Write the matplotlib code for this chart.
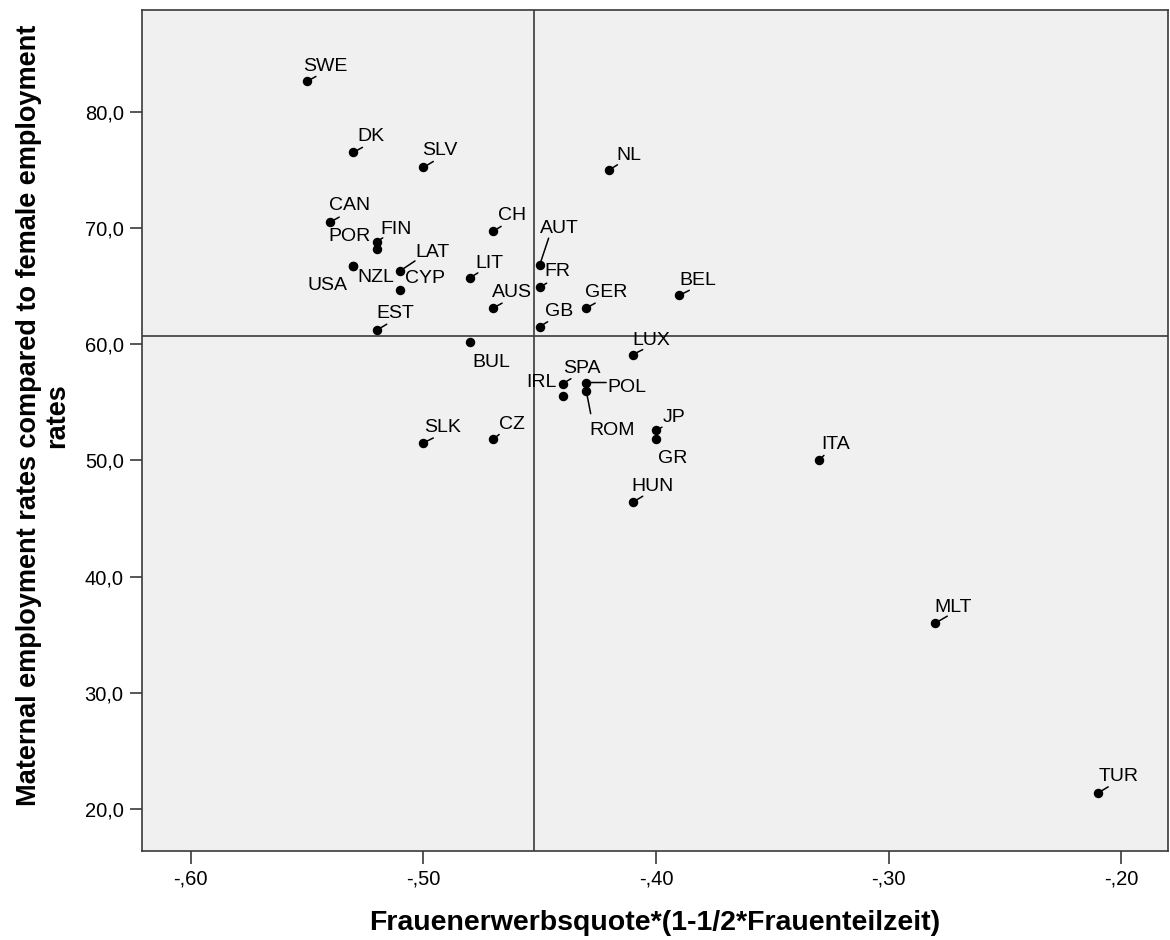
import matplotlib.pyplot as plt
from matplotlib.ticker import FuncFormatter

# country codes and values
countries = ['SWE', 'DK', 'SLV', 'NL', 'CAN', 'FIN', 'POR', 'CH', 'AUT', 'LAT',
             'LIT', 'FR', 'USA', 'NZL', 'CYP', 'AUS', 'GB', 'GER', 'BEL', 'EST',
             'BUL', 'LUX', 'SPA', 'IRL', 'POL', 'ROM', 'SLK', 'CZ', 'JP', 'GR',
             'HUN', 'ITA', 'MLT', 'TUR']
part_time_index = [-0.55, -0.53, -0.50, -0.42, -0.54, -0.52, -0.52, -0.47, -0.45, -0.51,
                   -0.48, -0.45, -0.53, -0.53, -0.51, -0.47, -0.45, -0.43, -0.39, -0.52,
                   -0.48, -0.41, -0.44, -0.44, -0.43, -0.43, -0.50, -0.47, -0.40, -0.40,
                   -0.41, -0.33, -0.28, -0.21]
maternal_rate = [82.6, 76.5, 75.2, 75.0, 70.5, 68.8, 68.2, 69.7, 66.8, 66.3,
                 65.7, 64.9, 66.7, 66.7, 64.7, 63.1, 61.5, 63.1, 64.2, 61.2,
                 60.2, 59.1, 56.6, 55.5, 56.7, 56.0, 51.5, 51.8, 52.6, 51.8,
                 46.4, 50.0, 36.0, 21.4]

mean_x = -0.4523
mean_y = 60.72

x_ticks = [-0.60, -0.50, -0.40, -0.30, -0.20]
y_ticks = [20, 30, 40, 50, 60, 70, 80]

# label placement in pixels: (dx, dy, ha, leader end or None)
label_pos = {
    'SWE': (-4, 10, 'left', (9, 5)),
    'DK': (4, 11, 'left', (9, 5)),
    'SLV': (-1, 12, 'left', (10, 6)),
    'NL': (7, 10, 'left', (8, 5)),
    'CAN': (-1, 12, 'left', (9, 5)),
    'FIN': (4, 8, 'left', (6, 4)),
    'POR': (-6, 8, 'right', None),
    'CH': (5, 11, 'left', (8, 5)),
    'AUT': (0, 32, 'left', (9, 27)),
    'LAT': (15, 14, 'left', (15, 10)),
    'LIT': (6, 10, 'left', (8, 5)),
    'FR': (5, 11, 'left', (7, 4)),
    'USA': (-6, -24, 'right', None),
    'NZL': (4, -16, 'left', None),
    'CYP': (5, 7, 'left', None),
    'AUS': (-1, 11, 'left', (9, 5)),
    'GB': (5, 11, 'left', (8, 5)),
    'GER': (-1, 11, 'left', (9, 5)),
    'BEL': (0, 10, 'left', (10, 5)),
    'EST': (0, 12, 'left', (10, 6)),
    'BUL': (3, -25, 'left', None),
    'LUX': (0, 10, 'left', (10, 5)),
    'SPA': (0, 11, 'left', (8, 5)),
    'IRL': (-6, 9, 'right', None),
    'POL': (21, -9, 'left', (20, 0)),
    'ROM': (3, -44, 'left', (4.5, -23)),
    'SLK': (1, 11, 'left', (10, 5)),
    'CZ': (6, 10, 'left', (6, 5)),
    'JP': (7, 8, 'left', (6, 3)),
    'GR': (2, -24, 'left', None),
    'HUN': (-1, 11, 'left', (10, 6)),
    'ITA': (2.5, 11, 'left', (5, 5)),
    'MLT': (-1, 11.5, 'left', (12, 7)),
    'TUR': (0, 12, 'left', (10, 6)),
}

plt.rcParams['font.family'] = ['Liberation Sans', 'DejaVu Sans']

fig = plt.figure(figsize=(11.7, 9.4), dpi=100)
ax = fig.add_axes([0.1211, 0.0947, 0.8772, 0.8947])
ax.set_facecolor('#f0f0f0')

ax.axvline(mean_x, color='#3a3a3a', lw=1.2, zorder=1)
ax.axhline(mean_y, color='#3a3a3a', lw=1.2, zorder=1)

ax.plot(part_time_index, maternal_rate, 'o', color='black', markersize=5.8, zorder=3)

for name, xv, yv in zip(countries, part_time_index, maternal_rate):
    dx, dy, ha, tail = label_pos[name]
    if tail is not None:
        ax.annotate('', xy=(xv, yv), xytext=tail, textcoords='offset pixels',
                    arrowprops=dict(arrowstyle='-', lw=1.1, color='black',
                                    shrinkA=0, shrinkB=0), zorder=3)
    ax.annotate(name, xy=(xv, yv), xytext=(dx, dy), textcoords='offset pixels',
                ha=ha, va='baseline', fontsize=14, color='black', zorder=4)

ax.set_xlim(-0.621, -0.180)
ax.set_ylim(16.4, 88.75)
ax.set_xticks(x_ticks)
ax.set_yticks(y_ticks)
ax.xaxis.set_major_formatter(FuncFormatter(lambda v, p: ('-' if v < 0 else '') + f'{abs(v):.2f}'[1:].replace('.', ',')))
ax.yaxis.set_major_formatter(FuncFormatter(lambda v, p: f'{v:.1f}'.replace('.', ',')))
ax.tick_params(direction='out', length=9, width=1.2, color='#3a3a3a',
               labelsize=14.5, pad=4)

for side in ['top', 'right', 'left', 'bottom']:
    ax.spines[side].set_color('#3a3a3a')
    ax.spines[side].set_linewidth(1.2)

ax.set_xlabel('Frauenerwerbsquote*(1-1/2*Frauenteilzeit)', fontsize=20.5, fontweight='bold')
ax.set_ylabel('Maternal employment rates compared to female employment\nrates',
              fontsize=19.5, fontweight='bold', linespacing=1.1)
ax.xaxis.set_label_coords(0.5, -0.07)
ax.yaxis.set_label_coords(-0.07, 0.518)

fig.savefig('out.png', dpi=100, facecolor='white')
